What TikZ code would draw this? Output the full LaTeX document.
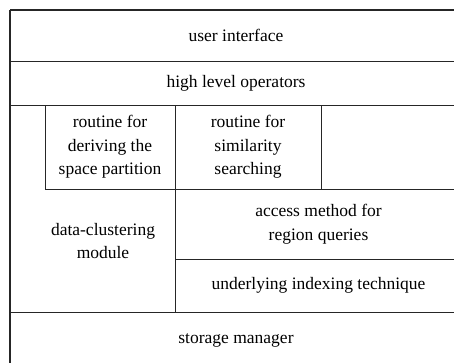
\documentclass[tikz,border=0pt]{standalone}
\usepackage{fontspec}
\setmainfont{Liberation Serif}
\usetikzlibrary{positioning}

\begin{document}
\begin{tikzpicture}[
        x=1pt, y=-1pt,
        layer/.style={rectangle, draw=black!85, line width=0.9pt, inner sep=0pt, outer sep=0pt,
          anchor=north west, align=center, font=\fontsize{17.5}{23.5}\selectfont},
        plain/.style={align=center, font=\fontsize{17.5}{23.5}\selectfont}
      ]
        \useasboundingbox (0,0) rectangle (454,362);
        \clip (0,0) rectangle (454,362);

        \node (ui) [layer, minimum width=452pt, minimum height=51pt] at (10,10) {user interface};
        \node (hlo) [layer, minimum width=452pt, minimum height=44pt] at (ui.south west) {high level operators};

        % middle band: clustering column on the left, query stack on the right
        \node (mid) [layer, minimum width=452pt, minimum height=207pt] at (hlo.south west) {};
        \node (partition) [layer, minimum width=130pt, minimum height=84pt] at (45,105) {routine for\\ deriving the\\ space partition};
        \node (similarity) [layer, minimum width=146pt, minimum height=84pt] at (partition.north east) {routine for\\ similarity\\ searching};
        \node (access) [layer, minimum width=287pt, minimum height=70pt] at (similarity.south west) {access method for\\ region queries};
        \node (indexing) [layer, minimum width=287pt, minimum height=53pt] at (access.south west) {underlying indexing technique};
        \node (cluster) [plain] at (103,241) {data-clustering\\ module};

        \node (storage) [layer, minimum width=452pt, minimum height=56pt] at (mid.south west) {storage manager};

        \draw[line width=2.6pt, black!85] (ui.north west) -- (storage.south west);
        \draw[line width=1.8pt, black!85] (ui.north west) -- (ui.north east);
      \end{tikzpicture}
\end{document}
